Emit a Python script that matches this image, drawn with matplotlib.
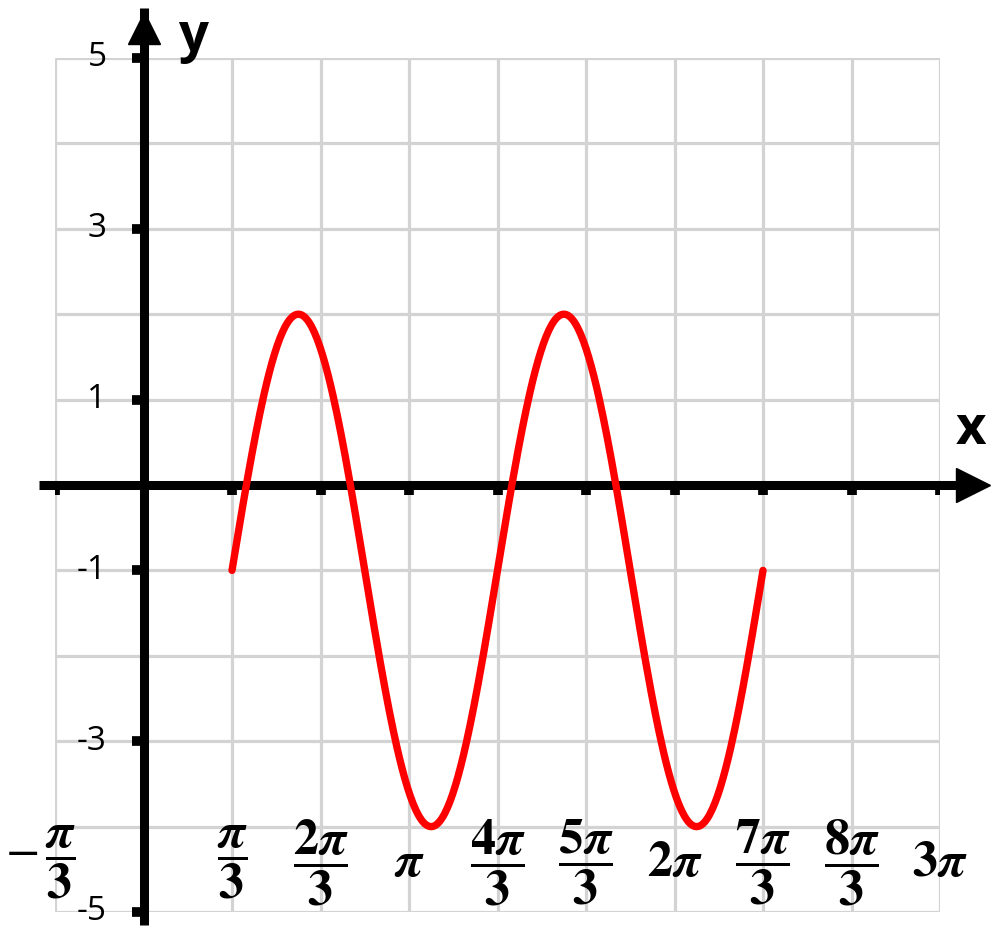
import numpy as np
import matplotlib.pyplot as plt

plt.rcParams['mathtext.fontset'] = 'stix'

# curve: y = A*sin(k*x - phase) + shift on [pi/3, 7pi/3]
amplitude = 3
shift = -1
k = 2
phase = 2 * np.pi / 3
x_start = np.pi / 3
x_end = 7 * np.pi / 3

u = np.pi / 3  # one grid step on x
x_grid = np.arange(-1, 10) * u
y_grid = np.arange(-5, 6)

x_ticks = [-1, 1, 2, 3, 4, 5, 6, 7, 8, 9]
x_labels = [r'$-\,\dfrac{\boldsymbol{\pi}}{\mathbf{3}}$',
            r'$\dfrac{\boldsymbol{\pi}}{\mathbf{3}}$',
            r'$\dfrac{\boldsymbol{2\pi}}{\mathbf{3}}$',
            r'$\boldsymbol{\pi}$',
            r'$\dfrac{\boldsymbol{4\pi}}{\mathbf{3}}$',
            r'$\dfrac{\boldsymbol{5\pi}}{\mathbf{3}}$',
            r'$\boldsymbol{2\pi}$',
            r'$\dfrac{\boldsymbol{7\pi}}{\mathbf{3}}$',
            r'$\dfrac{\boldsymbol{8\pi}}{\mathbf{3}}$',
            r'$\boldsymbol{3\pi}$']
y_ticks = [5, 3, 1, -1, -3, -5]

fig = plt.figure(figsize=(10, 9.44), dpi=100)
ax = fig.add_axes([0.055, 32 / 944, 0.885, 854 / 944])
ax.set_xlim(-u, 9 * u)
ax.set_ylim(-5, 5)
ax.axis('off')

# pixel -> data helpers (88.5 px per x step, 85.4 px per y unit)
px_x = u / 88.5
px_y = 1 / 85.4

# grid
ax.vlines(x_grid, -5, 5, color='#d3d3d3', lw=2.3, zorder=1)
ax.hlines(y_grid, -u, 9 * u, color='#d3d3d3', lw=2.3, zorder=1)

# axes with arrows
ax.plot([-u - 16 * px_x, 9 * u + 20 * px_x], [0, 0], color='black', lw=6.5,
        solid_capstyle='butt', clip_on=False, zorder=3)
ax.plot([9 * u + 33 * px_x], [0], marker='>', ms=24, color='black',
        clip_on=False, zorder=3)
ax.plot([0, 0], [-5 - 13 * px_y, 5 + 50 * px_y], color='black', lw=6.5,
        solid_capstyle='butt', clip_on=False, zorder=3)
ax.plot([0], [5 + 30 * px_y], marker='^', ms=23, color='black',
        clip_on=False, zorder=3)

# tick marks
ax.vlines(np.array(x_ticks) * u, -10 * px_y, 0, color='black', lw=7, zorder=3)
ax.hlines(y_ticks, -12 * px_x, 0, color='black', lw=7, zorder=3, clip_on=False)

# tick labels
for t, lab in zip(x_ticks, x_labels):
    dx = -15 * px_x if t == -1 else 0
    ax.text(t * u + dx, -4.42, lab, fontsize=36, ha='center', va='center')
for t in y_ticks:
    ax.text(-37 * px_x, t, str(t), fontsize=24, ha='right', va='center',
            family='Open Sans', clip_on=False)

ax.text(9.79, 0.64, 'x', fontsize=38, fontweight='bold', family='Open Sans',
        ha='center', va='center')
ax.text(0.59, 5.25, 'y', fontsize=38, fontweight='bold', family='Open Sans',
        ha='center', va='center')

# curve
xs = np.linspace(x_start, x_end, 400)
ys = amplitude * np.sin(k * xs - phase) + shift
ax.plot(xs, ys, color='red', lw=5.3, solid_capstyle='round', zorder=4)

fig.savefig('out.png', dpi=100)
